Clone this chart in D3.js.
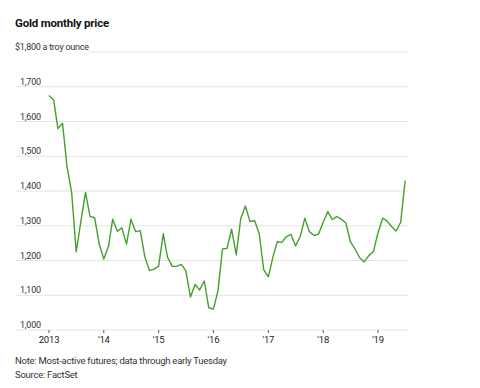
<!DOCTYPE html>
<html>
<head>
<meta charset="utf-8">
<script src="https://cdn.jsdelivr.net/npm/d3@7"></script>
<style>
  body { margin: 0; background: #fff; }
  text { font-family: "Roboto", "Lato", sans-serif; }
</style>
</head>
<body>
<div id="chart"></div>
<script>
// month-end gold futures, plotted at start of following month
const startMonth = '2013-01'
const prices = [
  1675, 1662, 1580, 1595, 1470, 1395, 1225, 1312, 1396, 1327, 1323, 1248,  // 2013
  1204, 1240, 1319, 1284, 1294, 1247, 1319, 1283, 1286, 1211, 1171, 1175,  // 2014
  1184, 1277, 1210, 1183, 1183, 1189, 1171, 1095, 1131, 1115, 1141, 1064,  // 2015
  1060, 1114, 1233, 1235, 1290, 1216, 1321, 1357, 1312, 1315, 1277, 1173,  // 2016
  1153, 1211, 1254, 1252, 1269, 1275, 1242, 1269, 1322, 1283, 1272, 1276,  // 2017
  1310, 1341, 1318, 1326, 1319, 1308, 1254, 1233, 1208, 1196, 1214, 1225,  // 2018
  1280, 1322, 1314, 1298, 1285, 1310, 1430                                 // 2019
]
const yTicks = [1000, 1100, 1200, 1300, 1400, 1500, 1600, 1700, 1800]
const xTickYears = [2013, 2014, 2015, 2016, 2017, 2018, 2019]
const xTickLabels = ['2013', "'14", "'15", "'16", "'17", "'18", "'19"]

const w = 480
const h = 388
const gridLeft = 15
const gridRight = 408

const parseMonth = d3.timeParse('%Y-%m')
const t0 = parseMonth(startMonth)
const data = prices.map((v, i) => ({date: d3.timeMonth.offset(t0, i), value: v}))

const svg = d3.select('#chart')
  .append('svg')
    .attr('width', w)
    .attr('height', h)

const x = d3.scaleTime()
  .domain([new Date(2013, 0, 1), new Date(2019, 0, 1)])
  .range([49, 378])

const y = d3.scaleLinear()
  .domain([1000, 1800])
  .range([330, 52])

// title
svg.append('text')
  .attr('x', 15).attr('y', 27)
  .attr('font-size', 11.5).attr('font-weight', 'bold')
  .attr('letter-spacing', -0.2)
  .attr('fill', '#111')
  .text('Gold monthly price')

// y labels (top one carries the unit)
const yLabels = svg.append('g')
  .selectAll('text')
  .data(yTicks)
  .enter()
  .append('text')
    .attr('x', d => d === 1800 ? 15 : 20)
    .attr('y', d => y(d) - 2)
    .attr('font-size', 9)
    .attr('letter-spacing', -0.25)
    .attr('fill', '#333')
    .text(d => d === 1800 ? '$1,800 a troy ounce' : d3.format(',')(d))

const unitEnd = 15 + yLabels.filter(d => d === 1800).node().getComputedTextLength()

// gridlines
svg.insert('g', 'g')
  .selectAll('line')
  .data(yTicks)
  .enter()
  .append('line')
    .attr('x1', d => d === 1800 ? unitEnd : gridLeft)
    .attr('x2', gridRight)
    .attr('y1', d => y(d)).attr('y2', d => y(d))
    .attr('stroke', '#e4e4e4')
    .attr('stroke-width', 1)

// x axis ticks
const xAxis = svg.append('g')
  .selectAll('g')
  .data(xTickYears)
  .enter()
  .append('g')
    .attr('transform', d => 'translate(' + x(new Date(d, 0, 1)) + ',' + y(1000) + ')')
xAxis.append('line')
  .attr('y1', 0).attr('y2', 3)
  .attr('stroke', '#555')
xAxis.append('text')
  .attr('y', 13)
  .attr('text-anchor', 'middle')
  .attr('font-size', 9.5)
  .attr('letter-spacing', -0.2)
  .attr('fill', '#222')
  .text((d, i) => xTickLabels[i])

// price line
const line = d3.line()
  .x(d => x(d.date))
  .y(d => y(d.value))

svg.append('path')
  .datum(data)
  .attr('d', line)
  .attr('fill', 'none')
  .attr('stroke', '#43a02c')
  .attr('stroke-width', 1.4)
  .attr('stroke-linejoin', 'round')

// footnotes
svg.append('text')
  .attr('x', 15).attr('y', 364)
  .attr('font-size', 9.5).attr('letter-spacing', -0.25).attr('fill', '#333')
  .text('Note: Most-active futures; data through early Tuesday')
svg.append('text')
  .attr('x', 15).attr('y', 378)
  .attr('font-size', 9.5).attr('letter-spacing', -0.25).attr('fill', '#333')
  .text('Source: FactSet')
</script>
</body>
</html>
